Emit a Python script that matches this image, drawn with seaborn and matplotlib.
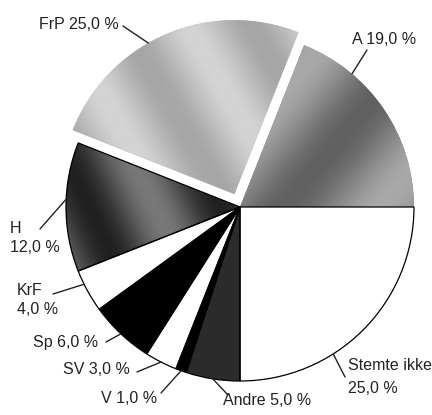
import numpy as np
import seaborn as sns
import matplotlib.pyplot as plt
from matplotlib.patches import Wedge

sns.set_theme(style="white")
plt.rcParams["font.family"] = ["Liberation Sans", "DejaVu Sans"]

parties = ["Stemte ikke", "Andre", "V", "SV", "Sp", "KrF", "H", "FrP", "A"]
shares = [25.0, 5.0, 1.0, 3.0, 6.0, 4.0, 12.0, 25.0, 19.0]
label_text = ["Stemte ikke\n25,0 %", "Andre 5,0 %", "V 1,0 %", "SV 3,0 %", "Sp 6,0 %",
              "KrF\n4,0 %", "H\n12,0 %", "FrP 25,0 %", "A 19,0 %"]

fills = ["white", "#2b2b2b", "black", "white", "black", "white", "#3a3a3a", "#b5b5b5", "#808080"]
# FrP is pulled out of the pie (offset in data units, the pie radius is 174)
explode = [0, 0, 0, 0, 0, 0, 0, 14, 0]

# label layout: text position, alignment, line spacing, leader end, where on the rim (0..1 clockwise)
text_pos = [(348, 38), (223, 15), (101, 17), (63, 45), (33, 73),
            (17, 115), (10, 177), (119, 390), (352, 375)]
text_ha = ["left", "left", "left", "left", "left", "left", "left", "right", "left"]
text_ls = [1.6, 1, 1, 1, 1, 1.3, 1.4, 1, 1]
line_end = [(345, 38), (228, 20), (161, 22), (137, 43), (106, 73),
            (53, 121), (40, 186), (123, 389), (367, 365)]
rim_frac = [0.64, 0.5, 0.5, 0.5, 0.5, 0.67, 0.56, 0.43, 0.27]

# grey texture for the shaded slices: (direction deg, base, amplitude, period px, phase)
textures = {
    "FrP": (30, 0.74, 0.09, 110, 0.0),
    "A": (-40, 0.52, 0.14, 150, 1.2),
    "H": (25, 0.30, 0.17, 120, 2.2),
}

fig = plt.figure(figsize=(4.32, 4.15), dpi=100)
ax = fig.add_axes([0, 0, 1, 1])

wedges, _ = ax.pie(shares, colors=fills, explode=explode, startangle=0,
                   counterclock=False, center=(240, 208), radius=174,
                   wedgeprops=dict(linewidth=0))
ax.set_aspect("auto")
ax.axis("off")

for w, name in zip(wedges, parties):
    if name in textures:
        ang, base, amp, period, phase = textures[name]
        x0, y0 = w.center[0] - w.r, w.center[1] - w.r
        xs = np.linspace(x0, x0 + 2 * w.r, 200)
        ys = np.linspace(y0, y0 + 2 * w.r, 200)
        X, Y = np.meshgrid(xs, ys)
        a = np.deg2rad(ang)
        proj = X * np.cos(a) + Y * np.sin(a)
        img = base + amp * np.sin(2 * np.pi * proj / period + phase)
        im = ax.imshow(img, extent=(x0, x0 + 2 * w.r, y0, y0 + 2 * w.r),
                       origin="lower", cmap="gray", vmin=0, vmax=1,
                       zorder=w.get_zorder() + 0.1, interpolation="bilinear")
        im.set_clip_path(w)
    if name != "FrP" and name != "A":
        ax.add_patch(Wedge(w.center, w.r, w.theta1, w.theta2, fc="none",
                           ec="black", lw=0.9, zorder=5))
ax.set_xlim(0, 432)
ax.set_ylim(0, 415)

for w, txt, pos, ha, ls, end, f in zip(wedges, label_text, text_pos, text_ha, text_ls,
                                       line_end, rim_frac):
    th = np.deg2rad(w.theta2 - f * (w.theta2 - w.theta1))
    rim = (w.center[0] + w.r * np.cos(th), w.center[1] + w.r * np.sin(th))
    ax.plot([end[0], rim[0]], [end[1], rim[1]], color="#222222", lw=1.0, zorder=6)
    ax.text(pos[0], pos[1], txt, ha=ha, va="center", fontsize=11.5,
            linespacing=ls, color="#222222")

fig.savefig("out.png", dpi=100)
